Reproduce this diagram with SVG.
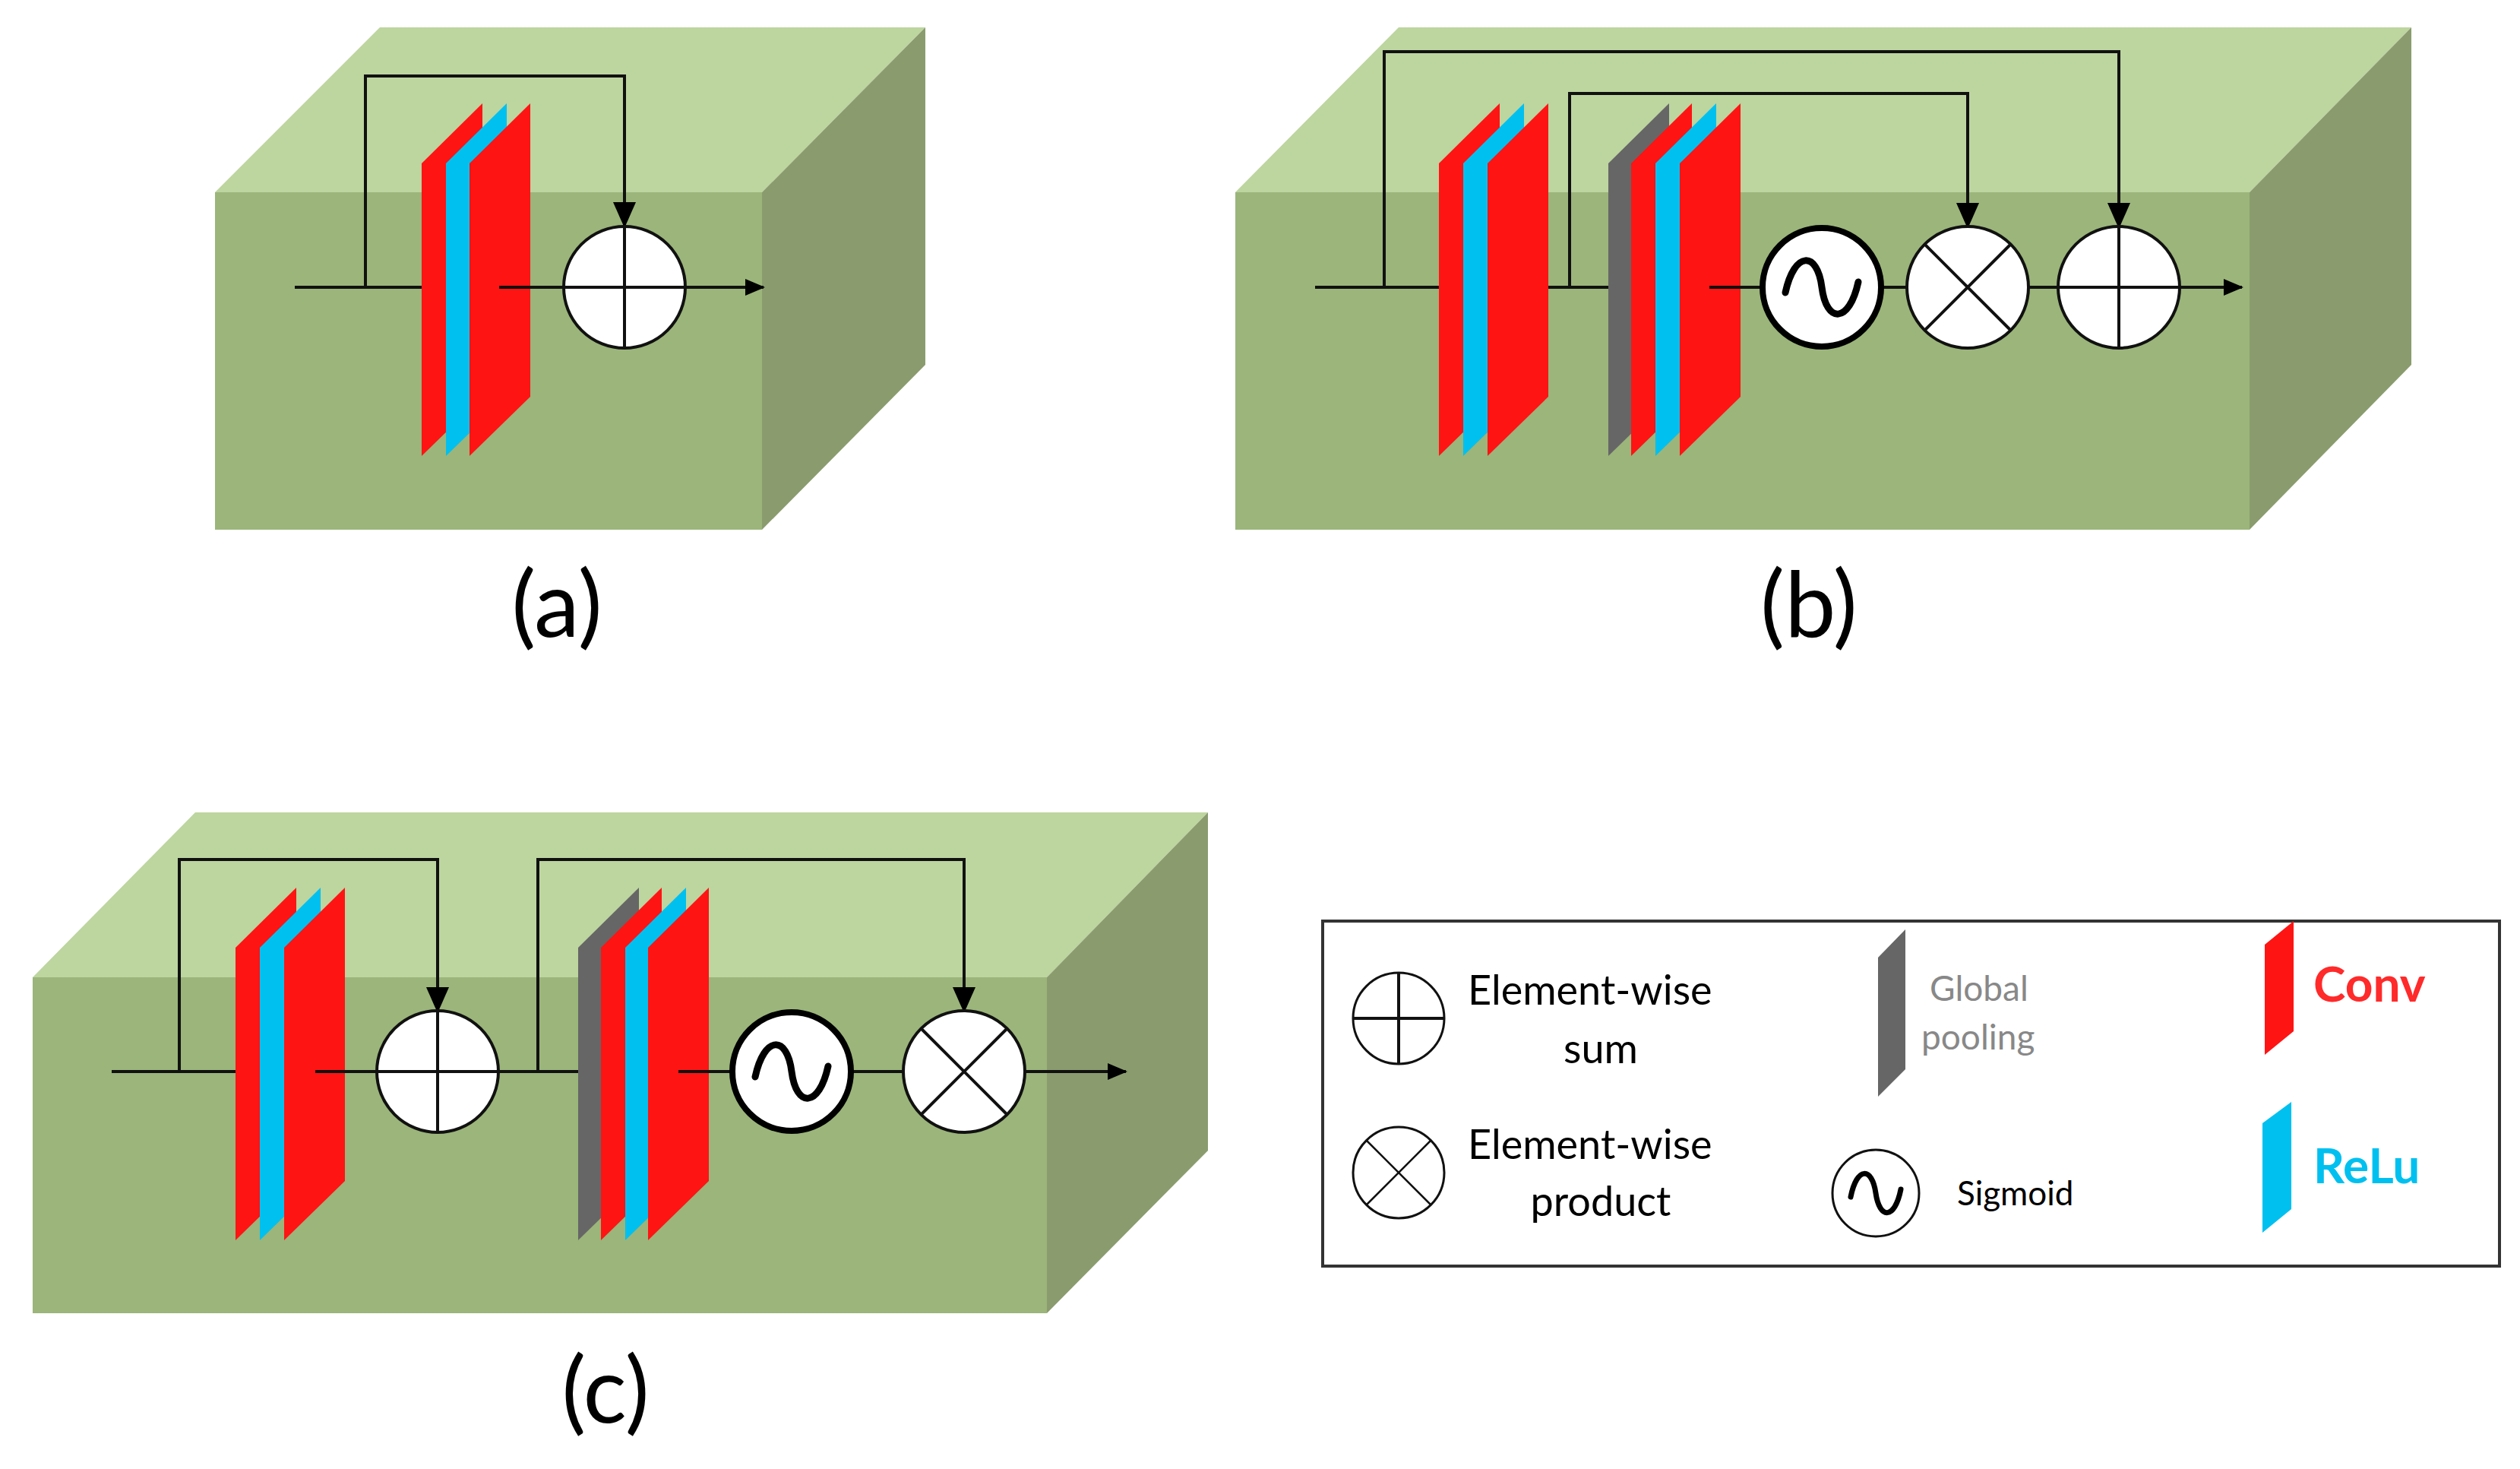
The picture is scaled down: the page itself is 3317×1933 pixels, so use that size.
<svg xmlns="http://www.w3.org/2000/svg" width="3317" height="1933" viewBox="0 0 3317 1933">
<defs>
<marker id="ah" markerUnits="userSpaceOnUse" markerWidth="34" markerHeight="30" refX="32" refY="15" orient="auto"><path d="M0,0 L34,15 L0,30 Z" fill="#000"/></marker>
<marker id="as" markerUnits="userSpaceOnUse" markerWidth="26" markerHeight="22" refX="24" refY="11" orient="auto"><path d="M0,0 L26,11 L0,22 Z" fill="#000"/></marker>
</defs>
<style>
.top{fill:#bdd59f}.front{fill:#9bb57a}.side{fill:#8a9c6e}
.r{fill:#ff1414}.b{fill:#00c0f0}.g{fill:#666}
.ln{fill:none;stroke:#111;stroke-width:4}
.c{fill:#fff;stroke:#111;stroke-width:4}
.cs{fill:#fff;stroke:#000;stroke-width:8}
.sg{fill:none;stroke:#000;stroke-width:9;stroke-linecap:round}
.lbl{font-family:Lato,"Open Sans",sans-serif;font-size:120px;fill:#000}
.lt{font-family:Lato,"Open Sans",sans-serif;font-size:54px;fill:#000}
</style>
<g id="box-a">
<polygon class="top" points="283,253 500,36 1218,36 1003,253"/>
<rect class="front" x="283" y="253" width="720" height="444"/>
<polygon class="side" points="1003,253 1218,36 1218,480 1003,697"/>
</g>
<g id="box-b">
<polygon class="top" points="1626,253 1841,36 3174,36 2961,253"/>
<rect class="front" x="1626" y="253" width="1335" height="444"/>
<polygon class="side" points="2961,253 3174,36 3174,480 2961,697"/>
</g>
<g id="box-c">
<polygon class="top" points="43,1286 257,1069 1590,1069 1378,1286"/>
<rect class="front" x="43" y="1286" width="1335" height="442"/>
<polygon class="side" points="1378,1286 1590,1069 1590,1514 1378,1728"/>
</g>
<g id="connectors">
<path class="ln" d="M388,378 H555"/>
<path class="ln" d="M481,378 V100 H822 V298" marker-end="url(#ah)"/>
<path class="ln" d="M1731,378 H1894"/>
<path class="ln" d="M1822,378 V68 H2789 V299" marker-end="url(#ah)"/>
<path class="ln" d="M1990,378 H2118"/>
<path class="ln" d="M2066,378 V123 H2590 V299" marker-end="url(#ah)"/>
<path class="ln" d="M147,1410 H310"/>
<path class="ln" d="M236,1410 V1131 H576 V1331" marker-end="url(#ah)"/>
<path class="ln" d="M410,1410 H761"/>
<path class="ln" d="M708,1410 V1131 H1269 V1331" marker-end="url(#ah)"/>
</g>
<g id="panels-a">
<polygon class="r" points="555,215 635,136 635,522 555,600"/>
<polygon class="b" points="587,215 667,136 667,522 587,600"/>
<polygon class="r" points="618,215 698,136 698,522 618,600"/>
</g>
<g id="panels-b1">
<polygon class="r" points="1894,215 1974,136 1974,522 1894,600"/>
<polygon class="b" points="1926,215 2006,136 2006,522 1926,600"/>
<polygon class="r" points="1958,215 2038,136 2038,522 1958,600"/>
</g>
<g id="panels-b2">
<polygon class="g" points="2117,215 2197,136 2197,522 2117,600"/>
<polygon class="r" points="2147,215 2227,136 2227,522 2147,600"/>
<polygon class="b" points="2179,215 2259,136 2259,522 2179,600"/>
<polygon class="r" points="2211,215 2291,136 2291,522 2211,600"/>
</g>
<g id="panels-c1">
<polygon class="r" points="310,1247 390,1168 390,1554 310,1632"/>
<polygon class="b" points="342,1247 422,1168 422,1554 342,1632"/>
<polygon class="r" points="374,1247 454,1168 454,1554 374,1632"/>
</g>
<g id="panels-c2">
<polygon class="g" points="761,1247 841,1168 841,1554 761,1632"/>
<polygon class="r" points="791,1247 871,1168 871,1554 791,1632"/>
<polygon class="b" points="823,1247 903,1168 903,1554 823,1632"/>
<polygon class="r" points="853,1247 933,1168 933,1554 853,1632"/>
</g>
<g id="flow-lines">
<path class="ln" d="M657,378 H1005" marker-end="url(#as)"/>
<path class="ln" d="M2250,378 H2951" marker-end="url(#as)"/>
<path class="ln" d="M415,1410 H497"/>
<path class="ln" d="M893,1410 H1482" marker-end="url(#as)"/>
</g>
<g id="sum-a"><circle class="c" cx="822" cy="378" r="80"/><path class="ln" d="M822,298 V458 M742,378 H902"/></g>
<g id="sig-b"><circle class="cs" cx="2398" cy="378" r="78"/><path class="sg" d="M2350,385 C2362,330 2392,330 2398,378 C2404,426 2434,426 2446,371"/></g>
<g id="prod-b"><circle class="c" cx="2590" cy="378" r="80"/><path class="ln" d="M2533,321 L2647,435 M2647,321 L2533,435"/></g>
<g id="sum-b"><circle class="c" cx="2789" cy="378" r="80"/><path class="ln" d="M2789,298 V458 M2709,378 H2869"/></g>
<g id="sum-c"><circle class="c" cx="576" cy="1410" r="80"/><path class="ln" d="M576,1330 V1490 M496,1410 H656"/></g>
<g id="sig-c"><circle class="cs" cx="1042" cy="1410" r="78"/><path class="sg" d="M994,1417 C1006,1362 1036,1362 1042,1410 C1048,1458 1078,1458 1090,1403"/></g>
<g id="prod-c"><circle class="c" cx="1269" cy="1410" r="80"/><path class="ln" d="M1212,1353 L1326,1467 M1326,1353 L1212,1467"/></g>
<g id="labels">
<text class="lbl" x="733" y="838" text-anchor="middle">(a)</text>
<text class="lbl" x="2381" y="838" text-anchor="middle">(b)</text>
<text class="lbl" x="797" y="1872" text-anchor="middle">(c)</text>
</g>
<g id="legend">
<rect x="1741" y="1212" width="1549" height="454" fill="#fff" stroke="#333" stroke-width="4"/>
<circle cx="1841" cy="1340" r="60" fill="none" stroke="#111" stroke-width="3"/>
<path d="M1841,1280 V1400 M1781,1340 H1901" stroke="#111" stroke-width="4"/>
<text class="lt" x="1932" y="1322">Element-wise</text>
<text class="lt" x="2107" y="1399" text-anchor="middle">sum</text>
<circle cx="1841" cy="1543" r="60" fill="none" stroke="#111" stroke-width="3"/>
<path d="M1799,1501 L1883,1585 M1883,1501 L1799,1585" stroke="#111" stroke-width="2.5"/>
<text class="lt" x="1932" y="1525">Element-wise</text>
<text class="lt" x="2107" y="1600" text-anchor="middle">product</text>
<polygon class="g" points="2472,1260 2508,1223 2508,1407 2472,1443"/>
<text x="2540" y="1317" font-family="Lato,'Open Sans',sans-serif" font-size="46" fill="#888">Global</text>
<text x="2529" y="1381" font-family="Lato,'Open Sans',sans-serif" font-size="46" fill="#888">pooling</text>
<circle cx="2469" cy="1570" r="57" fill="none" stroke="#111" stroke-width="3"/>
<path d="M2436,1575 C2444,1535 2464,1535 2469,1570 C2474,1605 2494,1605 2502,1565" fill="none" stroke="#000" stroke-width="7" stroke-linecap="round"/>
<text x="2576" y="1586" font-family="Lato,'Open Sans',sans-serif" font-size="44" fill="#000">Sigmoid</text>
<polygon class="r" points="2981,1243 3019,1212 3019,1357 2981,1388"/>
<text x="3045" y="1318" font-family="Lato,'Open Sans',sans-serif" font-size="64" font-weight="bold" fill="#ff2a2a">Conv</text>
<polygon class="b" points="2978,1478 3016,1450 3016,1591 2978,1622"/>
<text x="3045" y="1557" font-family="Lato,'Open Sans',sans-serif" font-size="64" font-weight="bold" fill="#00c0f0">ReLu</text>
</g>
</svg>
